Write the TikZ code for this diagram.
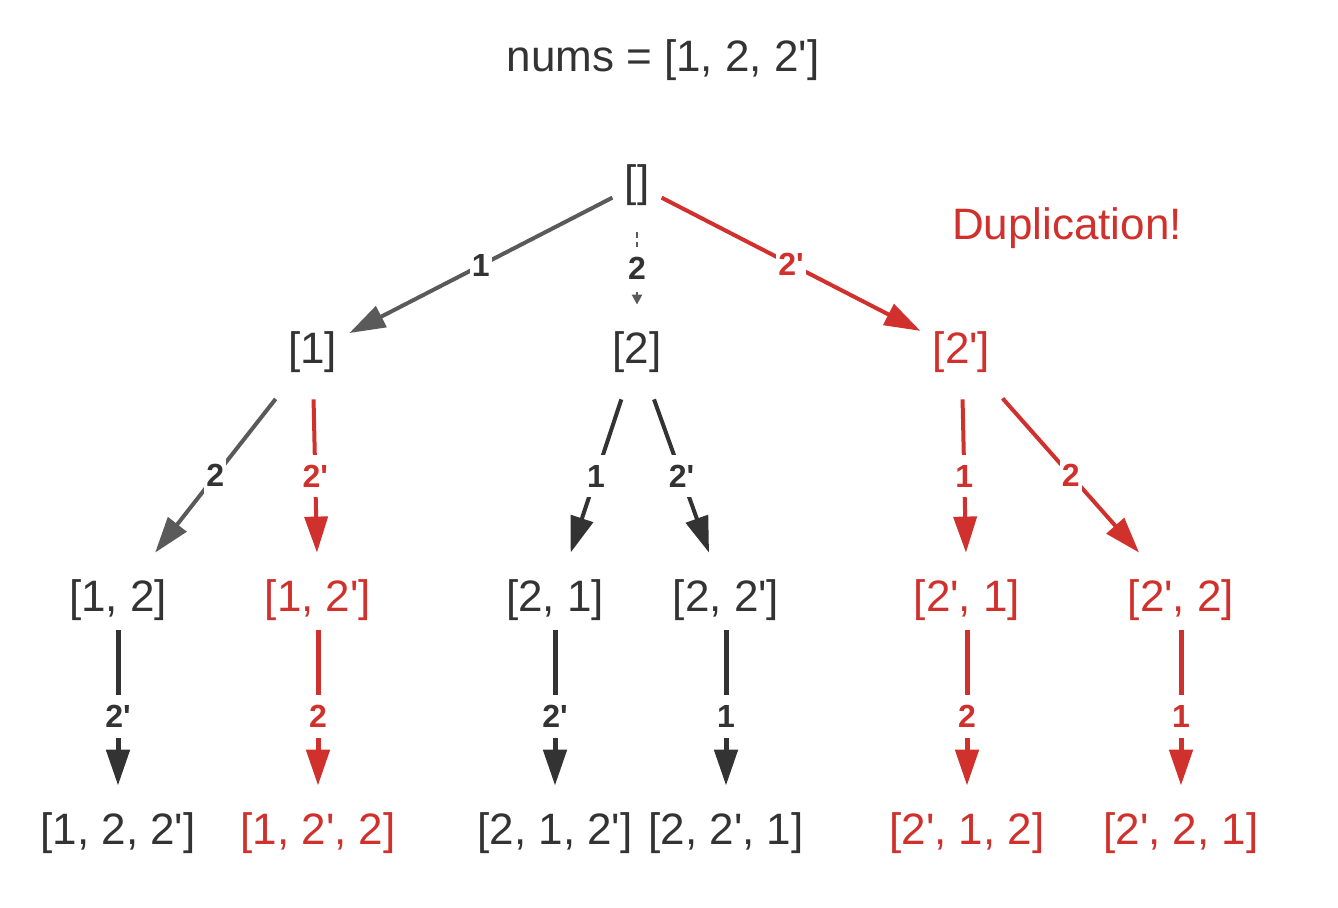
\documentclass[tikz,border=0pt]{standalone}
\usepackage{fontspec}
\setmainfont{Liberation Sans}
\usetikzlibrary{arrows.meta}

\definecolor{inkgray}{HTML}{333333}
\definecolor{edgegray}{HTML}{5A5A5A}
\definecolor{dupred}{HTML}{D0312D}
\newcommand{\twop}{2\textquotesingle}

\tikzset{
  perm/.style={font=\fontsize{22}{26}\selectfont, text=inkgray, inner xsep=6pt, inner ysep=0pt, minimum height=47pt},
  dup/.style={perm, text=dupred},
  choice/.style={font=\fontsize{16}{18}\selectfont\bfseries, text=inkgray, fill=white, inner xsep=1pt, inner ysep=5pt},
  dupchoice/.style={choice, text=dupred},
  pick/.style={solid, line width=2pt, -{Triangle[length=18pt,width=11.5pt]}},
}

\begin{document}
\begin{tikzpicture}[
    edge from parent/.style={draw=inkgray, pick},
    level 1/.style={level distance=83.5pt, sibling distance=162.25pt},
    level 2/.style={level distance=124pt, sibling distance=100pt},
    level 3/.style={level distance=116.5pt, edge from parent/.append style={line width=2.5pt, shorten <=-8.5pt}}
  ]
  \useasboundingbox (0,0) rectangle (669pt,-454pt);
  \node [perm] (title) at (331.5pt,-30pt) {nums = [1, 2, \twop]};
  \node [dup] (warn) at (533.5pt,-114pt) {Duplication!};
  \node [perm] (root) at (318.5pt,-92.5pt) {[]}
    child {node [perm] (a) {[1]}
      child[xshift=-47.25pt] {node [perm] (aa) {[1, 2]}
        child {node [perm] (aaa) {[1, 2, \twop]}
          edge from parent node [choice] {\twop}}
        edge from parent [draw=edgegray] node [choice] {2}}
      child[xshift=-47.25pt] {node [dup] (ab) {[1, \twop]}
        child {node [dup] (aba) {[1, \twop, 2]}
          edge from parent [draw=dupred] node [dupchoice] {2}}
        edge from parent [draw=dupred] node [dupchoice] {\twop}}
      edge from parent [draw=edgegray] node [choice] {1}}
    child {node [perm] (b) {[2]}
      child[xshift=9pt] {node [perm] (ba) {[2, 1]}
        child {node [perm] (baa) {[2, 1, \twop]}
          edge from parent [pick, line width=2.5pt] node [choice] {\twop}}
        edge from parent [pick] node [choice] {1}}
      child[xshift=-5.5pt] {node [perm] (bb) {[2, \twop]}
        child {node [perm] (bba) {[2, \twop, 1]}
          edge from parent [pick, line width=2.5pt] node [choice] {1}}
        edge from parent [pick] node [choice] {\twop}}
      edge from parent [draw=edgegray, densely dashed, line width=1.2pt, -{Triangle[length=5pt,width=5pt]}] node [choice] {2}}
    child {node [dup] (c) {[\twop]}
      child[xshift=52.75pt] {node [dup] (ca) {[\twop, 1]}
        child {node [dup] (caa) {[\twop, 1, 2]}
          edge from parent [draw=dupred] node [dupchoice] {2}}
        edge from parent [draw=dupred] node [dupchoice] {1}}
      child[xshift=59.75pt] {node [dup] (cb) {[\twop, 2]}
        child {node [dup] (cba) {[\twop, 2, 1]}
          edge from parent [draw=dupred] node [dupchoice] {1}}
        edge from parent [draw=dupred] node [dupchoice] {2}}
      edge from parent [draw=dupred] node [dupchoice] {\twop}};
\end{tikzpicture}
\end{document}
